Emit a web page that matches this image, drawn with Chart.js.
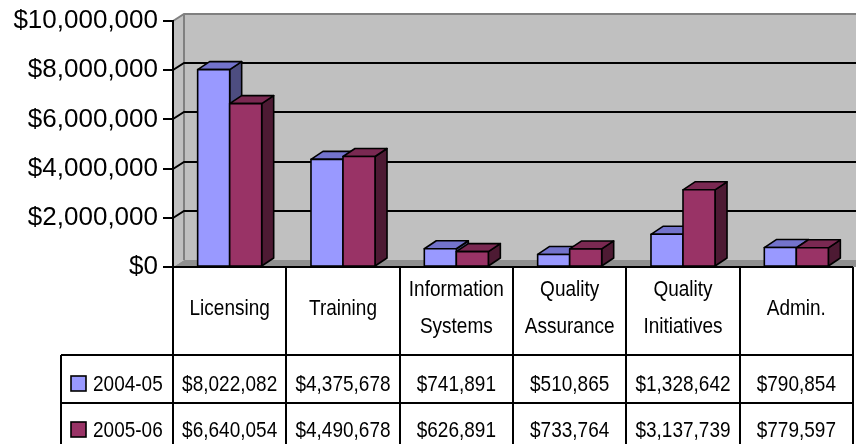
<!DOCTYPE html>
<html><head><meta charset="utf-8">
<script src="https://cdn.jsdelivr.net/npm/chart.js@4/dist/chart.umd.min.js"></script>
<style>html,body{margin:0;padding:0;background:#fff;overflow:hidden;} #wrap{width:856px;height:444px;position:relative;}</style>
</head><body><div id="wrap"><canvas id="c" width="856" height="444"></canvas></div>
<script>
const categories = [["Licensing"],["Training"],["Information","Systems"],["Quality","Assurance"],["Quality","Initiatives"],["Admin."]];
const seriesNames = ["2004-05","2005-06"];
const values2004 = [8022082,4375678,741891,510865,1328642,790854];
const values2005 = [6640054,4490678,626891,733764,3137739,779597];
const yTicks = [0,2000000,4000000,6000000,8000000,10000000];

const FONT = '"Liberation Sans", Arial, sans-serif';
const fronts = ['#9999FF','#993366'];
const tops = ['#7373CC','#7A2952'];
const sides = ['#4D4D80','#4D1A33'];
const WDX = 11, WDY = -7, BDX = 12, BDY = -8;

function money(v){ return '$' + v.toLocaleString('en-US'); }

const threeD = {
  id: 'threeD',
  beforeDraw(chart){
    const ctx = chart.ctx, a = chart.chartArea, ys = chart.scales.y;
    const W = chart.width;
    const L = a.left, B = a.bottom, T = a.top;
    ctx.save();
    ctx.fillStyle = '#C0C0C0';
    ctx.fillRect(L+WDX, T+WDY, W-(L+WDX), (B+WDY)-(T+WDY));
    ctx.beginPath();
    ctx.moveTo(L, T); ctx.lineTo(L+WDX, T+WDY); ctx.lineTo(L+WDX, B+WDY); ctx.lineTo(L, B); ctx.closePath();
    ctx.fill();
    ctx.fillStyle = '#8F8F8F';
    ctx.beginPath();
    ctx.moveTo(L, B); ctx.lineTo(L+WDX, B+WDY); ctx.lineTo(W, B+WDY); ctx.lineTo(W, B); ctx.closePath();
    ctx.fill();
    ctx.strokeStyle = '#808080'; ctx.lineWidth = 2;
    ctx.beginPath();
    ctx.moveTo(L, T); ctx.lineTo(L+WDX, T+WDY); ctx.lineTo(W, T+WDY);
    ctx.moveTo(L+WDX, T+WDY); ctx.lineTo(L+WDX, B+WDY);
    ctx.stroke();
    ctx.strokeStyle = '#000'; ctx.lineWidth = 2;
    yTicks.forEach(v => {
      if (v === 0 || v === yTicks[yTicks.length-1]) return;
      const y = Math.round(ys.getPixelForValue(v));
      ctx.beginPath();
      ctx.moveTo(L, y); ctx.lineTo(L+WDX, y+WDY); ctx.lineTo(W, y+WDY);
      ctx.stroke();
    });
    ctx.restore();
  },
  afterDatasetsDraw(chart){
    const ctx = chart.ctx;
    const metas = [chart.getDatasetMeta(0), chart.getDatasetMeta(1)];
    const n = metas[0].data.length;
    ctx.save();
    ctx.lineJoin = 'round';
    ctx.strokeStyle = '#000'; ctx.lineWidth = 1.6;
    for (let i = 0; i < n; i++) {
      for (let d = 0; d < 2; d++) {
        const el = metas[d].data[i];
        const l = el.x - el.width/2, r = el.x + el.width/2, t = el.y, b = el.base;
        ctx.fillStyle = sides[d];
        ctx.beginPath();
        ctx.moveTo(r, b); ctx.lineTo(r+BDX, b+BDY); ctx.lineTo(r+BDX, t+BDY); ctx.lineTo(r, t); ctx.closePath();
        ctx.fill(); ctx.stroke();
        ctx.fillStyle = tops[d];
        ctx.beginPath();
        ctx.moveTo(l, t); ctx.lineTo(l+BDX, t+BDY); ctx.lineTo(r+BDX, t+BDY); ctx.lineTo(r, t); ctx.closePath();
        ctx.fill(); ctx.stroke();
        ctx.fillStyle = fronts[d];
        ctx.fillRect(l, t, r-l, b-t);
        ctx.strokeRect(l, t, r-l, b-t);
      }
    }
    ctx.restore();
  },
  afterDraw(chart){
    const ctx = chart.ctx, a = chart.chartArea, xs = chart.scales.x;
    const H = chart.height;
    const cw = (a.right - a.left) / categories.length;
    const hdrTop = a.bottom, row1 = 355, row2 = 403, leftX = 61;
    ctx.save();
    ctx.strokeStyle = '#000'; ctx.lineWidth = 2;
    ctx.beginPath();
    ctx.moveTo(a.left, hdrTop); ctx.lineTo(a.right, hdrTop);
    ctx.moveTo(leftX, row1); ctx.lineTo(a.right, row1);
    ctx.moveTo(leftX, row2); ctx.lineTo(a.right, row2);
    ctx.moveTo(leftX, row1); ctx.lineTo(leftX, H);
    for (let i = 0; i <= categories.length; i++) {
      const x = Math.round(a.left + i*cw);
      ctx.moveTo(x, hdrTop); ctx.lineTo(x, H);
    }
    ctx.stroke();

    ctx.fillStyle = '#000';
    ctx.font = '19px ' + FONT;
    const SY = 1.2;
    function txt(s, x, base, align){
      ctx.save();
      ctx.translate(x, base);
      ctx.scale(1, SY);
      ctx.textAlign = align || 'center';
      ctx.textBaseline = 'alphabetic';
      ctx.fillText(s, 0, 0);
      ctx.restore();
    }
    categories.forEach((lab, i) => {
      const cx = xs.getPixelForValue(i);
      if (lab.length === 1) txt(lab[0], cx, 315);
      else { txt(lab[0], cx, 295.5); txt(lab[1], cx, 332.5); }
    });
    const rows = [values2004, values2005];
    const bases = [391, 437];
    rows.forEach((vals, r) => {
      vals.forEach((v, i) => txt(money(v), xs.getPixelForValue(i), bases[r]));
      ctx.fillStyle = fronts[r];
      ctx.fillRect(71, bases[r]-15, 15, 15);
      ctx.lineWidth = 1.6; ctx.strokeStyle = '#000';
      ctx.strokeRect(71, bases[r]-15, 15, 15);
      ctx.fillStyle = '#000';
      txt(seriesNames[r], 93, bases[r], 'left');
    });
    ctx.restore();
  }
};

new Chart(document.getElementById('c'), {
  type: 'bar',
  data: {
    labels: categories,
    datasets: [
      { label: seriesNames[0], data: values2004, backgroundColor: 'rgba(0,0,0,0)', borderWidth: 0 },
      { label: seriesNames[1], data: values2005, backgroundColor: 'rgba(0,0,0,0)', borderWidth: 0 }
    ]
  },
  options: {
    responsive: false,
    animation: false,
    devicePixelRatio: 1,
    events: [],
    layout: { padding: { top: 21, bottom: 177, left: 0, right: 3 } },
    datasets: { bar: { categoryPercentage: 0.565, barPercentage: 1.0 } },
    plugins: { legend: { display: false }, tooltip: { enabled: false } },
    scales: {
      x: { type: 'category', display: false, offset: true },
      y: {
        min: 0, max: 10000000,
        afterFit(s){ s.width = 173; },
        afterBuildTicks(s){ s.ticks = yTicks.map(v => ({ value: v })); },
        ticks: { callback: v => money(v), color: '#000', padding: 5, font: { family: FONT, size: 26 } },
        grid: { drawOnChartArea: false, drawTicks: true, tickLength: 10, color: '#000', lineWidth: 2 },
        border: { display: true, color: '#000', width: 2 }
      }
    }
  },
  plugins: [threeD]
});
</script>
</body></html>
